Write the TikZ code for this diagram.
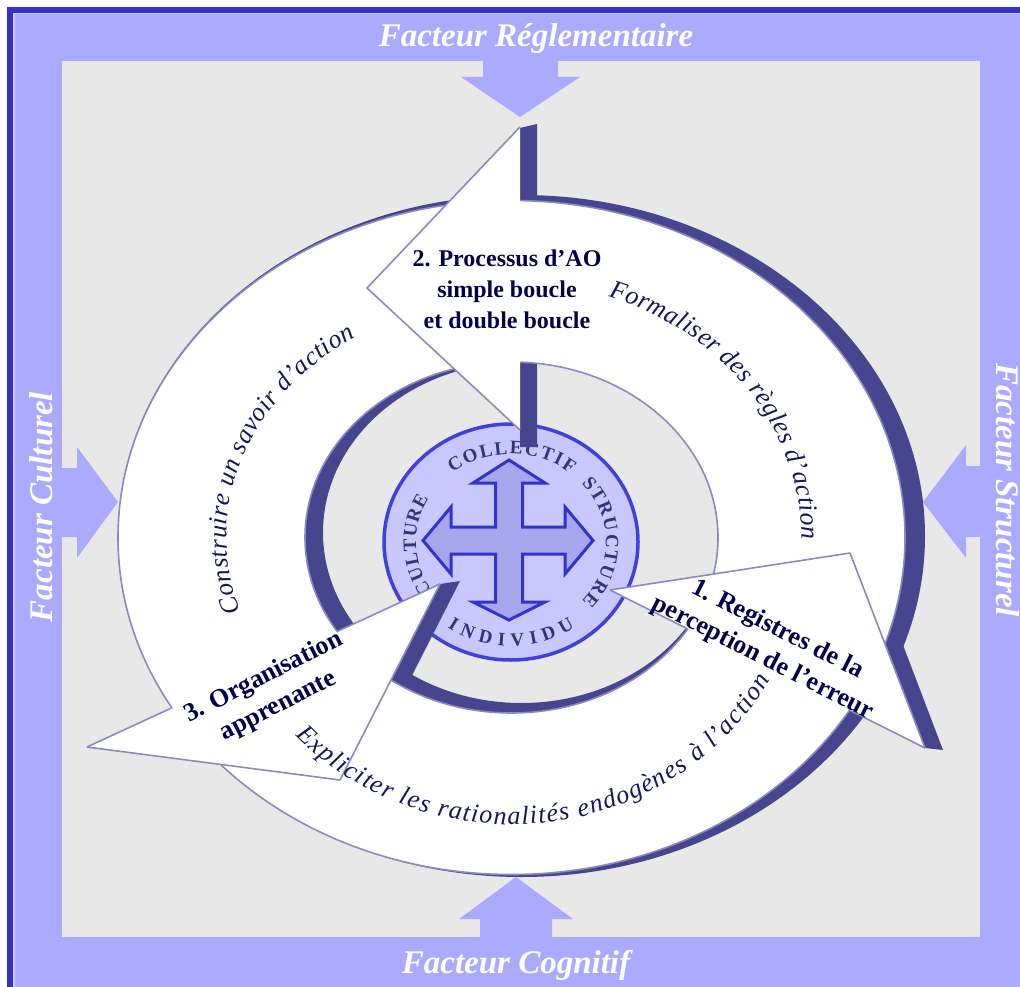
\documentclass[tikz,border=0pt]{standalone}
\usepackage{fontspec}
\setmainfont{Liberation Serif}
\usetikzlibrary{decorations.text}
\definecolor{lav}{HTML}{AAAAFF}
\definecolor{frameblue}{HTML}{3333CC}
\definecolor{lightline}{HTML}{D0D0FF}
\definecolor{bggrey}{HTML}{E8E8E8}
\definecolor{ringshade}{HTML}{46468F}
\definecolor{ringedge}{HTML}{8A8AC2}
\definecolor{discfill}{HTML}{C8C8FF}
\definecolor{discedge}{HTML}{4040DD}
\definecolor{crossfill}{HTML}{A6A6EC}
\definecolor{crossedge}{HTML}{3333CC}
\definecolor{labeltxt}{HTML}{00004D}
\definecolor{curvetxt}{HTML}{16165E}
\definecolor{disctxt}{HTML}{333377}
\newcommand\fsz[2]{\fontsize{#1}{#2}\selectfont}
\begin{document}
\begin{tikzpicture}[x=1pt,y=-1pt,
  factor/.style={text=white, font=\fsz{33}{36}\bfseries\itshape, inner sep=0pt},
  ringline/.style={draw=ringedge, line width=1.6pt, line join=round},
  lbl/.style={text=labeltxt, align=center, inner sep=0pt},
  curved/.style={decorate, decoration={text along path, text align={fit to path}, text color=curvetxt}},
  disclbl/.style={decorate, decoration={text along path, text align={fit to path}, text color=disctxt}}]
\useasboundingbox (0,0) rectangle (1020,987);
% frame
\fill[white] (0,0) rectangle (1020,987);
\fill[frameblue] (7,7) rectangle (1020,987);
\fill[lightline] (13,13) rectangle (1020,987);
\fill[lav] (14.5,14.5) rectangle (1020,987);
\fill[bggrey] (62,61) rectangle (980,937);
% factor arrows
\fill[lav] (483,60) -- (558,60) -- (558,77) -- (580,77) -- (520,117) -- (461,77) -- (483,77) -- cycle;
\fill[lav] (61,468) -- (77,468) -- (77,447) -- (118,502) -- (77,558) -- (77,537) -- (61,537) -- cycle;
\fill[lav] (981,466) -- (966,466) -- (966,445) -- (923,502) -- (966,558) -- (966,537) -- (981,537) -- cycle;
\fill[lav] (480,938) -- (480,919) -- (459,919) -- (516,877) -- (573,919) -- (552,919) -- (552,938) -- cycle;
% factor texts
\node[factor, anchor=base] (freg) at (536,47) {Facteur Réglementaire};
\node[factor, anchor=base] (fcog) at (516,973) {Facteur Cognitif};
\node[factor, anchor=base, rotate=90] (fcul) at (52,507) {Facteur Culturel};
\node[factor, anchor=base, rotate=-90] (fstr) at (996,490) {Facteur Structurel};
% central disc
\filldraw[fill=discfill, draw=discedge, line width=3.5pt] (511,542) ellipse [x radius=127, y radius=118];
\filldraw[fill=crossfill, draw=crossedge, line width=3pt, line join=miter]
  (509,460) -- (545,483) -- (522.5,483) -- (522.5,527) -- (565,527) -- (565,507) -- (593,540.5)
  -- (565,574) -- (565,554) -- (522.5,554) -- (522.5,602) -- (545,602) -- (509,620) -- (473,602)
  -- (495.5,602) -- (495.5,554) -- (451,554) -- (451,574) -- (423,540.5) -- (451,507) -- (451,527)
  -- (495.5,527) -- (495.5,483) -- (473,483) -- cycle;
\path[disclbl, decoration={text={|\fsz{19}{19}\bfseries|COLLECTIF}}]
  plot[variable=\t, domain=0:1, samples=60] ({511+95*cos(232+77*\t)},{542+88*sin(232+77*\t)});
\path[disclbl, decoration={text={|\fsz{19}{19}\bfseries|STRUCTURE}}]
  plot[variable=\t, domain=0:1, samples=60] ({511+95*cos(318+84*\t)},{542+88*sin(318+84*\t)});
\path[disclbl, decoration={text={|\fsz{19}{19}\bfseries|CULTURE}}]
  plot[variable=\t, domain=0:1, samples=60] ({511+95*cos(146+64*\t)},{542+88*sin(146+64*\t)});
\path[disclbl, decoration={text={|\fsz{19}{19}\bfseries|INDIVIDU}}]
  plot[variable=\t, domain=0:1, samples=60] ({511+111*cos(125-70*\t)},{542+104*sin(125-70*\t)});
% ring: back face (shadow)
\fill[ringshade, even odd rule] (521.5,536) ellipse [x radius=403.5, y radius=341]
  (521.5,532.5) ellipse [x radius=198.5, y radius=170.5];
% head coordinates
\coordinate (h2a) at (520,127); \coordinate (h2t) at (367,288); \coordinate (h2b) at (520,430);
\coordinate (h3a) at (440,584); \coordinate (h3t) at (340,780); \coordinate (h3b) at (87,747);
\coordinate (h1a) at (610,590); \coordinate (h1t) at (850,553); \coordinate (h1b) at (925,748);
% head shadows
\fill[ringshade] (520,128) -- (537,124) -- (537,447) -- (520,447) -- cycle;
\fill[ringshade] (h3a) -- (460,581) -- (360,778) -- (h3t) -- cycle;
\fill[ringshade] (h1t) -- (868,553) -- (943,750) -- (h1b) -- cycle;
% ring front face
\filldraw[fill=white, ringline, even odd rule] (511.5,537.5) ellipse [x radius=393.5, y radius=337]
  (511.5,537.5) ellipse [x radius=206.5, y radius=175.5];
% heads
\fill[white] (h2a) -- (h2t) -- (h2b) -- cycle;
\draw[ringline] (h2a) -- (h2t) -- (h2b);
\fill[white] (h3a) -- (h3t) -- (h3b) -- cycle;
\draw[ringline] (h3a) -- (h3t) -- (h3b);
\fill[white] (h1a) -- (h1t) -- (h1b) -- cycle;
\draw[ringline] (h1a) -- (h1t) -- (h1b);
\begin{scope}[even odd rule]
  \clip (0,0) rectangle (1020,987)
    (511.5,537.5) ellipse [x radius=393.5, y radius=337]
    (511.5,537.5) ellipse [x radius=206.5, y radius=175.5];
  \draw[ringline] (h3a) -- (h3b);
  \draw[ringline] (h1a) -- (h1b);
\end{scope}
% curved texts
\path[curved, decoration={text={|\fsz{26}{26}\itshape|Construire un savoir d'action}}]
  plot[variable=\t, domain=0:1, samples=90] ({511.5+285*cos(162+75*\t)},{537.5+239*sin(162+75*\t)});
\path[curved, decoration={text={|\fsz{26}{26}\itshape|Formaliser des règles d'action}}]
  plot[variable=\t, domain=0:1, samples=90] ({511.5+290*cos(289.5+71*\t)},{537.5+256*sin(289.5+71*\t)});
\path[curved, decoration={text={|\fsz{26}{26}\itshape|Expliciter les rationalités endogènes à l'action}}]
  plot[variable=\t, domain=0:1, samples=120] ({511.5+298*cos(136.5-107*\t)},{537.5+287*sin(136.5-107*\t)});
% labels
\node[lbl, font=\fsz{24}{31}\bfseries] (l2) at (507,289) {2. Processus d'AO\\simple boucle\\et double boucle};
\node[lbl, font=\fsz{26}{32}\bfseries, rotate=-27] (l1) at (770,644) {1. Registres de la\\perception de l'erreur};
\node[lbl, font=\fsz{26}{32}\bfseries, rotate=27] (l3) at (271,692) {3. Organisation\\apprenante};
\end{tikzpicture}
\end{document}
